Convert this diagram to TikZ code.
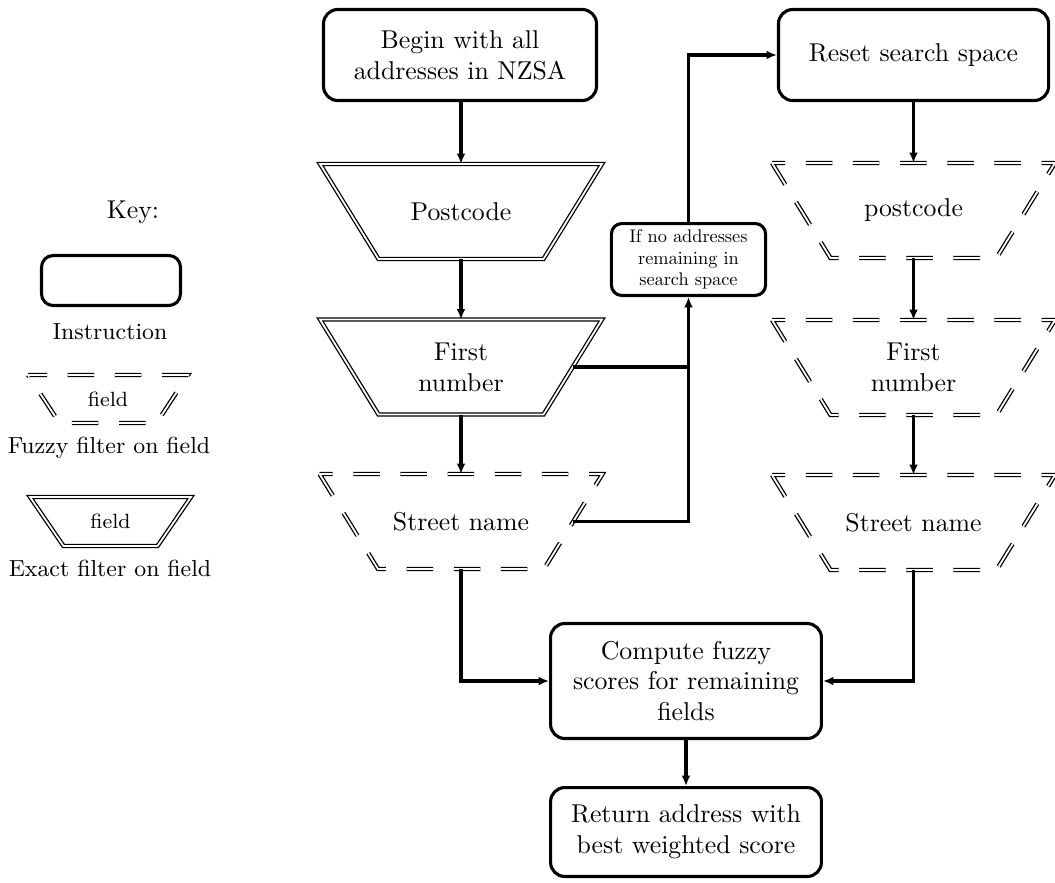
\documentclass[tikz,border=0pt]{standalone}
\usetikzlibrary{shapes.geometric,arrows.meta}
% border of a filter trapezium: style, node, half top width, half bottom width, half height;
% also names the midpoint of its right side <node>-e
\newcommand\trapborder[5]{%
  \draw[#1] ([shift={(-#3,-#5)}]#2.center) -- ([shift={(#3,-#5)}]#2.center)
    -- ([shift={(#4,#5)}]#2.center) -- ([shift={(-#4,#5)}]#2.center) -- cycle;
  \coordinate (#2-e) at ([shift={({(#3+#4)/2},0)}]#2.center);}
% small text in the condition box, the 10pt design scaled down
\font\condfont=cmr10 at 7.1pt
\begin{document}
\begin{tikzpicture}[x=0.388pt,y=-0.388pt,
  instr/.style={draw, line width=1.2pt, rounded corners=5.5pt, align=center, inner sep=2pt},
  trapnode/.style={rectangle, minimum width=109.8pt, minimum height=36.9pt,
    inner sep=0pt, outer sep=0pt, align=center},
  exactline/.style={double, line width=0.5pt, double distance=0.7pt},
  fuzzyline/.style={exactline, dash pattern=on 10.3pt off 8pt, dash phase=5.2pt},
  conn/.style={line width=1.2pt},
  arr/.style={conn, -{Latex[length=4pt,width=3.4pt]}},
  keylabel/.style={font=\small},
]
\useasboundingbox (0,0) rectangle (1055,882);

% key
\node (key) at (133,212) {Key:};
\node[instr, rounded corners=4.5pt, minimum width=53.9pt, minimum height=19.4pt] (kinstr) at (111,280.5) {};
\node[keylabel] (kinstrl) at (110,332) {Instruction};
\node[font=\footnotesize, inner sep=0pt] (kfuzzy) at (108,399) {field};
\trapborder{fuzzyline, dash phase=2.9pt}{kfuzzy}{80}{48.5}{24}
\node[keylabel] (kfuzzyl) at (109,448) {Fuzzy filter on field};
\node[font=\footnotesize, inner sep=0pt] (kexact) at (110.5,521.5) {field};
\trapborder{exactline}{kexact}{80.5}{47}{24.5}
\node[keylabel] (kexactl) at (110,568) {Exact filter on field};

% left column: exact search
\node[instr, minimum width=105.9pt, minimum height=35.3pt] (begin) at (460,55) {Begin with all\\addresses in NZSA};
\node[trapnode] (pc) at (461,211.5) {Postcode};
\trapborder{exactline}{pc}{141}{82.5}{47.5}
\node[trapnode] (fn) at (461,367) {First\\number};
\trapborder{exactline}{fn}{141}{82.5}{47.5}
\node[trapnode] (sn) at (461,521.5) {Street name};
\trapborder{fuzzyline}{sn}{141.5}{83}{47.5}

% right column: fuzzy search
\node[instr, minimum width=104.8pt, minimum height=35.3pt] (reset) at (913.5,55) {Reset search space};
\node[trapnode] (rpc) at (913.5,210.5) {postcode};
\trapborder{fuzzyline}{rpc}{141.5}{83}{47.5}
\node[trapnode] (rfn) at (913.5,367.5) {First\\number};
\trapborder{fuzzyline}{rfn}{141.5}{83}{47.5}
\node[trapnode] (rsn) at (913.5,522.5) {Street name};
\trapborder{fuzzyline}{rsn}{141.5}{83}{47.5}

% fallback condition
\node[instr, rounded corners=4pt, minimum width=59.8pt, minimum height=27.9pt,
  font={\condfont\baselineskip=8.5pt}] (none) at (688.5,259.5) {If no addresses\\remaining in\\search space};

% scoring
\node[instr, minimum width=105.1pt, minimum height=44.6pt] (score) at (686,681) {Compute fuzzy\\scores for remaining\\fields};
\node[instr, minimum width=105.1pt, minimum height=34.5pt] (ret) at (686,832) {Return address with\\best weighted score};

% connectors
\draw[arr] (begin.south -| pc.north) -- (pc.north);
\draw[arr] (pc.south) -- (fn.north);
\draw[arr] (fn.south) -- (sn.north);
\draw[arr] (reset) -- (rpc.north);
\draw[arr] (rpc.south) -- (rfn.north);
\draw[arr] (rfn.south) -- (rsn.north);
\draw[arr] (sn.south) |- (score.west);
\draw[arr] (rsn.south) |- (score.east);
\draw[arr] (score) -- (ret);
\coordinate (join) at (fn-e -| none.south);
\draw[conn] (sn-e) -| (join);
\draw[arr] (fn-e) -| (none.south);
\draw[arr] (none.north) |- (reset.west);
\end{tikzpicture}
\end{document}
